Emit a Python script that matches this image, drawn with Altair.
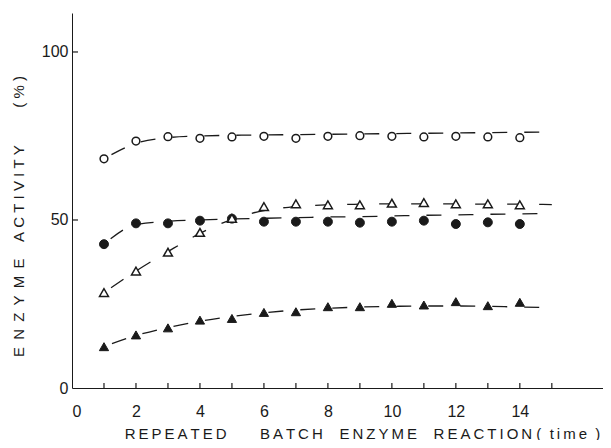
import altair as alt
import pandas as pd

# ---- data ----
runs = list(range(1, 15))
open_circle = [68.2, 73.5, 74.8, 74.3, 74.7, 74.9, 74.3, 74.9, 75.1, 74.9, 74.7, 74.9, 74.7, 74.5]
filled_circle = [42.8, 49.0, 49.0, 49.8, 50.4, 49.5, 49.5, 49.5, 49.2, 49.5, 49.8, 48.8, 49.3, 48.8]
open_triangle = [28.4, 34.8, 40.4, 46.3, 50.5, 54.0, 54.8, 54.5, 54.5, 55.0, 55.2, 54.8, 54.8, 54.5]
filled_triangle = [12.3, 15.8, 17.9, 20.2, 20.7, 22.5, 22.7, 24.2, 24.2, 25.2, 24.7, 25.7, 24.5, 25.5]

curve_x = list(range(1, 16))
curve_open_circle = [68.2, 72.8, 74.5, 75.0, 75.2, 75.3, 75.4, 75.5, 75.6, 75.7, 75.8, 75.9, 76.0, 76.1, 76.2]
curve_filled_circle = [42.8, 48.6, 49.6, 50.0, 50.3, 50.5, 50.7, 50.9, 51.0, 51.2, 51.4, 51.5, 51.7, 51.8, 52.0]
curve_open_triangle = [28.4, 34.8, 40.6, 46.0, 50.2, 52.8, 54.0, 54.5, 54.7, 54.8, 54.8, 54.8, 54.7, 54.7, 54.6]
curve_filled_triangle = [12.3, 15.6, 18.0, 19.9, 21.3, 22.4, 23.2, 23.7, 24.1, 24.3, 24.4, 24.4, 24.3, 24.1, 23.9]

x_labels = [0, 2, 4, 6, 8, 10, 12, 14]
x_minor = list(range(1, 16))
y_labels = [0, 50, 100]
y_minor = [50, 100]

INK = "#1a1a1a"
FONT = "Liberation Sans"
NB = "\u00a0"
TH = "\u2009"

series = [
    ("open circle", open_circle, curve_open_circle, "circle", False, 60),
    ("filled circle", filled_circle, curve_filled_circle, "circle", True, 80),
    ("open triangle", open_triangle, curve_open_triangle, "triangle-up", False, 80),
    ("filled triangle", filled_triangle, curve_filled_triangle, "triangle-up", True, 85),
]

xscale = alt.Scale(domain=[0, 16.6], nice=False, zero=False)
yscale = alt.Scale(domain=[0, 111.6], nice=False, zero=False)

x_title = (TH.join("REPEATED") + NB * 8 + TH.join("BATCH") + NB * 4 +
           TH.join("ENZYME") + NB * 4 + TH.join("REACTION") + NB +
           "(" + NB * 2 + TH.join("time") + NB * 2 + ")")
y_title = ((NB + TH).join("ENZYME") + NB * 4 + NB.join("ACTIVITY") +
           NB * 9 + "(" + NB + "%" + NB + ")")

xaxis = alt.Axis(values=x_labels, ticks=False, grid=False, domainColor=INK,
                 labelFont=FONT, labelFontSize=16, labelColor=INK, labelPadding=15,
                 title=x_title, titleFont=FONT, titleFontSize=15, titleFontWeight="normal",
                 titleColor=INK, titleX=290, titleY=45, titleBaseline="middle",
                 titleAlign="center")
yaxis = alt.Axis(values=y_labels, ticks=False, grid=False, domainColor=INK,
                 labelFont=FONT, labelFontSize=16, labelColor=INK, labelPadding=4,
                 title=y_title, titleFont=FONT, titleFontSize=15, titleFontWeight="normal",
                 titleColor=INK, titleX=-54, titleY=203, titleAngle=270,
                 titleBaseline="middle", titleAlign="center")

X = lambda: alt.X("x:Q", scale=xscale)
Y = lambda: alt.Y("y:Q", scale=yscale)

layers = []
frame = pd.DataFrame({"x": x_labels, "y": [0] * len(x_labels)})
layers.append(
    alt.Chart(frame).mark_point(opacity=0).encode(
        x=alt.X("x:Q", scale=xscale, axis=xaxis),
        y=alt.Y("y:Q", scale=yscale, axis=yaxis),
    )
)

# inward ticks
layers.append(
    alt.Chart(pd.DataFrame({"x": x_minor})).mark_rule(color=INK, strokeWidth=1.2).encode(
        x=X(), y=alt.value(375), y2=alt.value(370),
    )
)
layers.append(
    alt.Chart(pd.DataFrame({"y": y_minor})).mark_rule(color=INK, strokeWidth=1.2).encode(
        y=Y(), x=alt.value(0), x2=alt.value(6),
    )
)

for name, pts, curve, shape, filled, size in series:
    cdf = pd.DataFrame({"x": curve_x, "y": curve})
    layers.append(
        alt.Chart(cdf).mark_line(color=INK, strokeWidth=1.3, strokeDash=[15, 17],
                                 strokeDashOffset=23.5,
                                 interpolate="monotone").encode(x=X(), y=Y())
    )

for name, pts, curve, shape, filled, size in series:
    pdf = pd.DataFrame({"x": runs, "y": pts})
    if filled:
        mk = alt.Chart(pdf).mark_point(shape=shape, filled=True, fill=INK, stroke=INK,
                                       strokeWidth=1, size=size, opacity=1)
    else:
        mk = alt.Chart(pdf).mark_point(shape=shape, filled=True, fill="white", stroke=INK,
                                       strokeWidth=1.5, size=size, opacity=1)
    layers.append(mk.encode(x=X(), y=Y()))

chart = alt.layer(*layers).properties(
    width=531, height=375,
    autosize=alt.AutoSizeParams(type="none"),
    padding={"left": 64, "top": 5, "right": 0, "bottom": 52},
    background="white",
).configure_view(stroke=None)

chart.save("out.html", embed_options={"renderer": "svg", "actions": False})
